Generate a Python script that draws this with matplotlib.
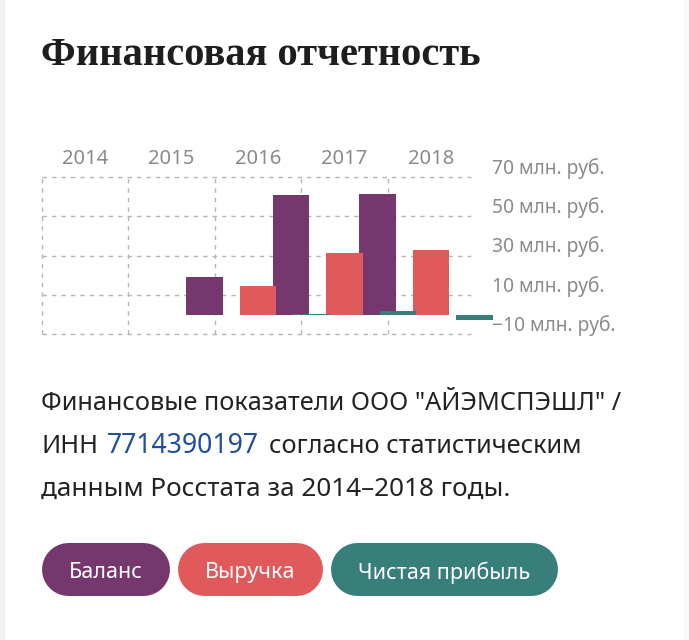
import matplotlib
matplotlib.use("Agg")
import matplotlib.pyplot as plt
from matplotlib.patches import Rectangle
from matplotlib.transforms import ScaledTranslation

W, H = 689, 640

years = ["2014", "2015", "2016", "2017", "2018"]
y_ticks = [-10, 10, 30, 50, 70]
y_labels = ["−10 млн. руб.", "10 млн. руб.", "30 млн. руб.", "50 млн. руб.", "70 млн. руб."]

balance = [None, 19.3, 60.8, 61.3, None]
revenue = [None, None, 14.7, 31.2, 33.0]
profit = [None, None, 0.4, 1.6, -2.8]

BAL, REV, PRO = "#76376f", "#e05a5c", "#387e7b"
legend_names = ["Баланс", "Выручка", "Чистая прибыль"]

# bar offsets inside a year band, in band units
bal_off = [0.885] * 5
rev_off = [0.503] * 5
pro_off = [0, 0, 1.12, 1.12, 1.003]
bar_w = 0.424

fig = plt.figure(figsize=(W / 100, H / 100), dpi=100, facecolor="white")
px = lambda x, y: (x / W, 1 - y / H)

# page edge
fig.add_artist(Rectangle((0, 0), 5 / W, 1, transform=fig.transFigure, color="#f2f2f2", lw=0))
fig.add_artist(Rectangle((684 / W, 0), 5 / W, 1, transform=fig.transFigure, color="#f9f9f9", lw=0))

L, R, T, B = 41.5, 470.5, 176.7, 334.3
ax = fig.add_axes([L / W, 1 - B / H, (R - L) / W, (B - T) / H])
ax.set_xlim(0, (R - L) / 86.5)
ax.set_ylim(-10, 70)
ax.patch.set_alpha(0)
for s in ax.spines.values():
    s.set_visible(False)

grid = dict(color="#b6b6b6", lw=1.0, ls=(0, (3.2, 3.6)), zorder=1, clip_on=False)
for v in y_ticks:
    ax.axhline(v, **grid)
for i in range(len(years)):
    ax.axvline(i, **grid)


def draw(values, offsets, color, z):
    for i, v in enumerate(values):
        if v is not None:
            ax.bar(i + offsets[i], v, width=bar_w, color=color, zorder=z,
                   clip_on=False, lw=0)


draw(balance, bal_off, BAL, 3)
draw(revenue, rev_off, REV, 4)
draw(profit, pro_off, PRO, 5)

ax.set_xticks([i + 0.5 for i in range(len(years))], years)
ax.xaxis.tick_top()
ax.tick_params(axis="x", length=0, pad=5.5, labelsize=14.5, labelcolor="#8a8a8a")
ax.set_yticks(y_ticks, y_labels)
ax.yaxis.tick_right()
ax.tick_params(axis="y", length=0, pad=15.5, labelsize=13.8, labelcolor="#8a8a8a")
up = ScaledTranslation(0, 11 / 100, fig.dpi_scale_trans)
for lab in ax.get_xticklabels():
    lab.set_fontfamily("Noto Sans")
for lab in ax.get_yticklabels():
    lab.set_fontfamily("Noto Sans")
    lab.set_transform(lab.get_transform() + up)

fig.text(*px(41, 65), "Финансовая отчетность", family="Liberation Serif", weight="bold",
         fontsize=29.2, color="#1e1e1e", va="baseline", ha="left")

INK, LINK, FS = "#222222", "#1f4ea1", 18.2
txt = dict(family="Noto Sans", va="baseline")
fig.text(*px(41, 410), "Финансовые показатели ООО \"АЙЭМСПЭШЛ\" /", color=INK, fontsize=FS, **txt)
fig.text(*px(41, 453), "ИНН", color=INK, fontsize=FS, **txt)
fig.text(*px(107, 453), "7714390197", color=LINK, fontsize=19.2, **txt)
fig.text(*px(269, 453), "согласно статистическим", color=INK, fontsize=FS, **txt)
fig.text(*px(41, 496), "данным Росстата за 2014–2018 годы.", color=INK, fontsize=18.8, **txt)

# legend pills
overlay = fig.add_axes([0, 0, 1, 1])
overlay.set_xlim(0, W)
overlay.set_ylim(H, 0)
overlay.axis("off")
pills = [(41.5, 170, BAL), (177.5, 323, REV), (330.5, 557.5, PRO)]
pill_h = 53
for (x0, x1, c), name in zip(pills, legend_names):
    overlay.plot([x0 + pill_h / 2 - 0.5, x1 - pill_h / 2 - 0.5], [568.7, 568.7], color=c,
                 lw=pill_h * 0.72, solid_capstyle="round")
    overlay.text((x0 + x1) / 2, 572.5, name, color="white", family="Noto Sans",
                 fontsize=15.5, ha="center", va="center")

fig.savefig("out.png", dpi=100)
